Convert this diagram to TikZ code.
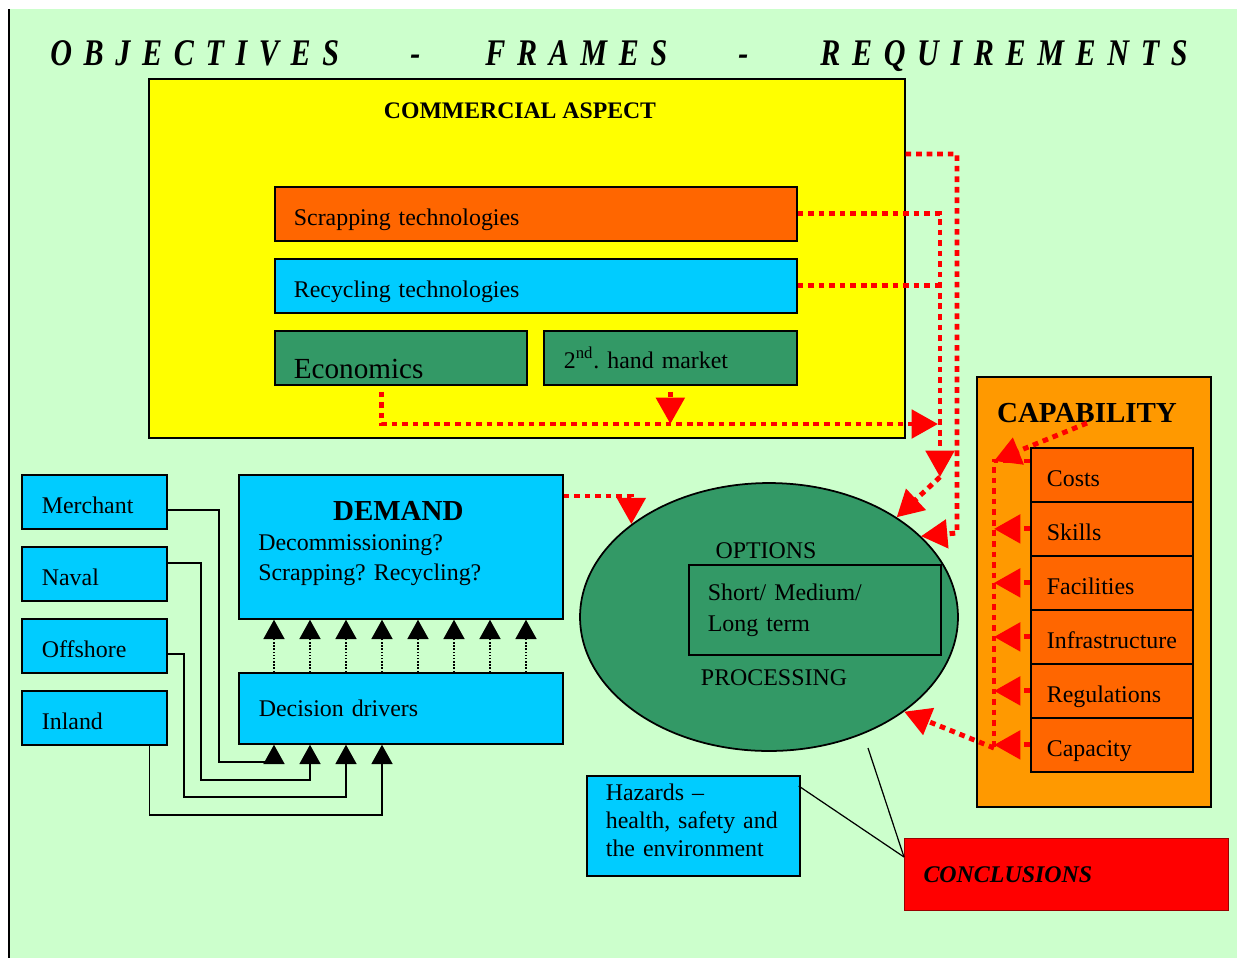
\documentclass[tikz,border=0pt]{standalone}
\usepackage{fontspec}
\setmainfont{Liberation Serif}
\newfontfamily\titlefont[FakeStretch=0.8,LetterSpace=31]{Liberation Serif}
\usetikzlibrary{arrows.meta,shapes.geometric,calc}
\frenchspacing

\definecolor{bggreen}{HTML}{CCFFCC}
\definecolor{commyellow}{HTML}{FFFF00}
\definecolor{techorange}{HTML}{FF6600}
\definecolor{techcyan}{HTML}{00CCFF}
\definecolor{econgreen}{HTML}{339966}
\definecolor{capaorange}{HTML}{FF9900}

\newcommand{\bodyfont}{\fontsize{13.6}{17}\selectfont}

\tikzset{
  box/.style={draw, line width=1pt, anchor=north west, align=left, inner ysep=0pt, font=\bodyfont},
  lowtext/.style={text height=16.5pt, text depth=3.5pt},
  capitem/.style={box, lowtext, fill=techorange, minimum width=3.24cm, minimum height=1.08cm, inner xsep=0.32cm, text width=2.6cm},
  srcbox/.style={box, lowtext, fill=techcyan, minimum width=2.9cm, minimum height=1.08cm, inner xsep=0.4cm, text width=2.1cm},
  titletext/.style={anchor=base west, inner sep=0pt, font=\titlefont\fontsize{21.4}{24}\selectfont\bfseries\itshape},
  reddot/.style={draw=red, line width=2.8pt, dash pattern=on 3.2pt off 2.8pt},
  redarrow/.style={reddot, -{Triangle[length=15pt,width=16pt]}},
  feed/.style={line width=0.8pt, -{Triangle[length=11pt,width=12pt]}},
  dotarrow/.style={line width=0.8pt, densely dotted, -{Triangle[length=11pt,width=12pt]}},
  thinline/.style={line width=0.7pt}
}

\begin{document}
\begin{tikzpicture}[x=0.02cm,y=-0.02cm]
\useasboundingbox (0,0) rectangle (1244,958);
\fill[bggreen] (10,9) rectangle (1237,958);
\draw[line width=1.2pt] (9,9) -- (9,958);

% title line
\node[titletext] (obj) at (50,65) {OBJECTIVES};
\node[titletext] (dasha) at (410,65) {-};
\node[titletext] (frames) at (485,65) {FRAMES};
\node[titletext] (dashb) at (738,65) {-};
\node[titletext] (requ) at (820,65) {REQUIREMENTS};

% commercial aspect
\node[box, fill=commyellow, minimum width=15.12cm, minimum height=7.18cm] (comm) at (148,78) {};
\node[font=\fontsize{13.5}{16}\selectfont\bfseries] (commtitle) at (520,111) {COMMERCIAL ASPECT};
\node[box, lowtext, fill=techorange, minimum width=10.44cm, minimum height=1.08cm, inner xsep=0.38cm, text width=9.68cm] (scrap) at (274,186) {Scrapping technologies};
\node[box, lowtext, fill=techcyan, minimum width=10.44cm, minimum height=1.08cm, inner xsep=0.38cm, text width=9.68cm] (recyc) at (274,258) {Recycling technologies};
\node[box, fill=econgreen, minimum width=5.04cm, minimum height=1.08cm, inner xsep=0.38cm, text width=4.28cm, text height=27pt, text depth=3.5pt, font=\fontsize{16.6}{19}\selectfont] (econ) at (274,330) {Economics};
\node[box, fill=econgreen, minimum width=5.06cm, minimum height=1.08cm, inner xsep=0.4cm, text width=4.26cm] (second) at (543,330) {2\textsuperscript{nd}. hand market};

% capability
\node[box, fill=capaorange, minimum width=4.68cm, minimum height=8.6cm] (capa) at (976,376) {};
\node[font=\fontsize{16.5}{18}\selectfont\bfseries, inner sep=0pt] (captitle) at (1087,413) {CAPABILITY};
\node[capitem] (costs) at (1030,447) {Costs};
\node[capitem] (skills) at (1030,501) {Skills};
\node[capitem] (facil) at (1030,555) {Facilities};
\node[capitem] (infra) at (1030,609) {Infrastructure};
\node[capitem] (regul) at (1030,663) {Regulations};
\node[capitem] (capac) at (1030,717) {Capacity};

% vessel types
\node[srcbox] (merchant) at (21,474) {Merchant};
\node[srcbox] (naval) at (21,546) {Naval};
\node[srcbox] (offshore) at (21,618) {Offshore};
\node[srcbox] (inland) at (21,690) {Inland};

% demand
\node[box, fill=techcyan, minimum width=6.48cm, minimum height=2.88cm] (demand) at (238,474) {};
\node[anchor=north west, inner sep=0pt, text width=5.6cm, align=left, font=\bodyfont] (demandtxt) at (258,501)
  {\makebox[\linewidth]{\fontsize{16.5}{18}\selectfont\bfseries DEMAND}\\Decommissioning?\\Scrapping? Recycling?};
\node[box, fill=techcyan, minimum width=6.48cm, minimum height=1.42cm, inner xsep=0.4cm, text width=5.68cm] (drivers) at (238,672) {Decision drivers};

% processing
\node[ellipse, draw, line width=1pt, fill=econgreen, minimum width=7.56cm, minimum height=5.36cm, inner sep=0pt] (proc) at (769,617) {};
\node[font=\bodyfont] (optlabel) at (766,551) {OPTIONS};
\node[box, minimum width=5.04cm, minimum height=1.8cm, inner xsep=0.38cm, text width=4.28cm, font=\fontsize{13.6}{17.6}\selectfont] (options) at (688,564) {Short/ Medium/\\Long term};
\node[font=\bodyfont] (proclabel) at (774,678) {PROCESSING};

% hazards and conclusions
\node[box, fill=techcyan, minimum width=4.26cm, minimum height=2cm, inner xsep=0.38cm, text width=3.5cm, text depth=38pt, font=\fontsize{13.6}{15.9}\selectfont] (hazards) at (586,775) {Hazards \textendash\\health, safety and\\the environment};
\node[box, fill=red, draw=red!60!black, line width=0.6pt, minimum width=6.48cm, minimum height=1.44cm, inner xsep=0.38cm, text width=5.72cm, font=\fontsize{13.6}{16}\selectfont\bfseries\itshape] (concl) at (904,838) {CONCLUSIONS};
\coordinate (procfoot) at (868,748);
\draw[thinline] ($(hazards.north east)+(-2,11)$) -- ($(concl.north west)+(0,19)$);
\draw[thinline] (procfoot) -- ($(concl.north west)+(0,19)$);

% vessel types into decision drivers
\draw[feed] ($(merchant.north east)+(0,36)$) -| (219,762) -| ($(drivers.south west)+(36,0)$);
\draw[feed] ($(naval.north east)+(0,17)$) -| (201,780) -| ($(drivers.south west)+(72,0)$);
\draw[feed] ($(offshore.north east)+(0,36)$) -| (184,797) -| ($(drivers.south west)+(108,0)$);
\draw[feed] ($(inland.south east)+(-18,0)$) |- (382,815) -- ($(drivers.south west)+(144,0)$);
\foreach \i in {0,...,7}
  \draw[dotarrow] ($(drivers.north west)+(36+36*\i,0)$) -- ($(demand.south west)+(36+36*\i,0)$);

% red links
\coordinate (econjoin) at (938,424);
\coordinate (scrapdown) at (940,477);
\coordinate (commdown) at (957,533);
\coordinate (captop) at (994,461);
\coordinate (capbot) at (994,748);
\draw[redarrow] ($(econ.south)+(-19,6)$) |- (econjoin);
\draw[redarrow] ($(second.south)+(0,6)$) -- (second.south |- econjoin);
\draw[redarrow] (scrap.east) -| (scrapdown);
\draw[reddot] (recyc.east) -- (recyc.east -| scrapdown);
\draw[redarrow] (scrapdown) -- (proc.38);
\draw[redarrow] ($(comm.north east)+(0,76)$) -| (commdown) -- (proc.28);
\draw[redarrow] ($(demand.north east)+(0,22)$) -| (proc.146);
\draw[redarrow] (captitle.south) -- (captop);
\draw[reddot] ($(costs.north west)+(0,14)$) -- (captop) -- (capbot);
\foreach \n in {skills,facil,infra,regul,capac}
  \draw[redarrow] (\n.west) -- (\n.west -| captop);
\draw[redarrow] (capbot) -- (proc.-35);
\end{tikzpicture}
\end{document}
